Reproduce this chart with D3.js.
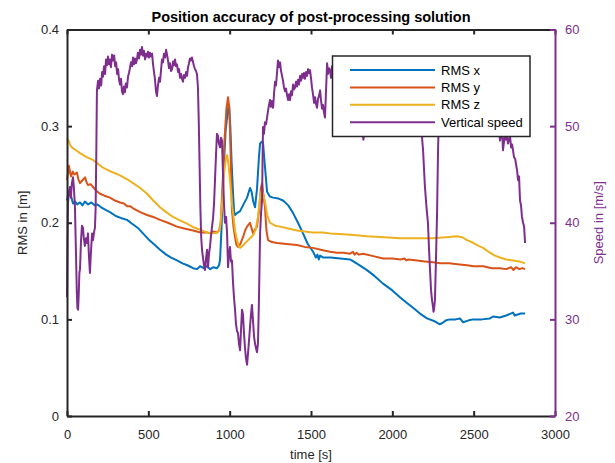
<!DOCTYPE html>
<html>
<head>
<meta charset="utf-8">
<script src="https://cdn.jsdelivr.net/npm/d3@7"></script>
<style>
  body { margin: 0; background: #fff; }
  svg { font-family: Arial, "Liberation Sans", Helvetica, sans-serif; }
</style>
</head>
<body>
<svg id="chart" width="615" height="463"></svg>
<script>
// time [s], RMS [m]
const rmsX = [[0,0.223],[8,0.230],[18,0.234],[27,0.226],[37,0.220],[50,0.222],[62,0.219],[80,0.221],[95,0.218],[110,0.222],[130,0.219],[150,0.221],[170,0.218],[185,0.219],[210,0.216],[240,0.213],[264,0.211],[300,0.207],[330,0.205],[369,0.203],[400,0.199],[440,0.194],[467,0.189],[500,0.183],[540,0.177],[572,0.172],[610,0.167],[640,0.164],[676,0.161],[710,0.158],[740,0.156],[775,0.153],[800,0.152],[818,0.155],[840,0.153],[860,0.155],[880,0.152],[900,0.154],[922,0.153],[935,0.156],[941,0.162],[950,0.195],[960,0.245],[975,0.295],[990,0.318],[996,0.322],[1004,0.300],[1012,0.262],[1021,0.230],[1027,0.212],[1033,0.208],[1045,0.210],[1064,0.212],[1085,0.219],[1107,0.226],[1125,0.236],[1135,0.232],[1145,0.222],[1156,0.216],[1168,0.235],[1180,0.268],[1187,0.282],[1198,0.284],[1205,0.283],[1215,0.262],[1230,0.232],[1248,0.227],[1267,0.226],[1300,0.225],[1328,0.223],[1360,0.218],[1390,0.210],[1420,0.200],[1451,0.189],[1480,0.178],[1513,0.170],[1530,0.164],[1540,0.167],[1548,0.162],[1556,0.166],[1574,0.164],[1620,0.164],[1680,0.163],[1740,0.162],[1790,0.157],[1844,0.151],[1890,0.145],[1943,0.137],[2000,0.130],[2047,0.123],[2090,0.117],[2127,0.112],[2170,0.106],[2213,0.101],[2260,0.098],[2290,0.095],[2305,0.096],[2330,0.099],[2355,0.100],[2390,0.100],[2416,0.101],[2435,0.097],[2470,0.099],[2496,0.100],[2550,0.100],[2600,0.101],[2619,0.103],[2660,0.102],[2700,0.104],[2742,0.107],[2752,0.104],[2790,0.106],[2816,0.106]];

const rmsY = [[0,0.244],[6,0.252],[12,0.259],[20,0.251],[25,0.248],[35,0.253],[45,0.250],[61,0.252],[70,0.245],[80,0.241],[95,0.244],[111,0.247],[120,0.242],[129,0.239],[145,0.240],[160,0.237],[180,0.233],[203,0.230],[230,0.228],[264,0.226],[295,0.223],[326,0.221],[350,0.220],[370,0.217],[390,0.217],[406,0.215],[450,0.211],[492,0.208],[530,0.206],[572,0.203],[620,0.200],[676,0.196],[720,0.194],[775,0.192],[820,0.190],[861,0.190],[880,0.189],[900,0.191],[922,0.190],[935,0.192],[945,0.200],[955,0.235],[968,0.285],[980,0.318],[990,0.330],[998,0.318],[1006,0.270],[1014,0.213],[1024,0.195],[1033,0.185],[1042,0.177],[1051,0.175],[1065,0.178],[1082,0.185],[1095,0.192],[1107,0.196],[1125,0.200],[1135,0.194],[1144,0.189],[1156,0.193],[1168,0.196],[1180,0.212],[1192,0.236],[1199,0.241],[1208,0.228],[1217,0.216],[1226,0.192],[1236,0.182],[1260,0.180],[1291,0.179],[1350,0.178],[1414,0.177],[1460,0.175],[1512,0.174],[1560,0.172],[1617,0.170],[1660,0.169],[1700,0.169],[1740,0.168],[1758,0.170],[1768,0.167],[1780,0.169],[1795,0.167],[1820,0.168],[1870,0.166],[1943,0.163],[2000,0.163],[2050,0.162],[2075,0.163],[2085,0.161],[2100,0.162],[2152,0.161],[2200,0.160],[2250,0.159],[2293,0.158],[2350,0.158],[2400,0.157],[2459,0.156],[2500,0.155],[2560,0.155],[2610,0.153],[2662,0.153],[2700,0.152],[2730,0.154],[2745,0.151],[2760,0.154],[2780,0.152],[2800,0.153],[2816,0.152]];

const rmsZ = [[0,0.287],[10,0.285],[18,0.281],[25,0.279],[37,0.277],[55,0.275],[80,0.272],[120,0.268],[160,0.265],[190,0.261],[221,0.257],[270,0.253],[326,0.249],[370,0.245],[406,0.241],[450,0.236],[492,0.230],[530,0.223],[572,0.216],[610,0.211],[652,0.206],[700,0.202],[738,0.199],[770,0.196],[799,0.194],[830,0.192],[861,0.190],[898,0.189],[925,0.190],[940,0.193],[952,0.215],[965,0.250],[978,0.268],[984,0.270],[992,0.262],[1004,0.240],[1014,0.220],[1021,0.210],[1033,0.192],[1045,0.182],[1055,0.176],[1064,0.174],[1085,0.177],[1107,0.181],[1125,0.184],[1144,0.187],[1160,0.193],[1174,0.206],[1188,0.228],[1199,0.234],[1208,0.228],[1217,0.222],[1230,0.208],[1248,0.200],[1280,0.197],[1310,0.196],[1360,0.194],[1414,0.192],[1460,0.191],[1512,0.190],[1570,0.190],[1617,0.189],[1700,0.188],[1780,0.187],[1844,0.186],[1950,0.185],[2047,0.184],[2150,0.184],[2250,0.184],[2330,0.185],[2398,0.186],[2430,0.185],[2459,0.182],[2500,0.179],[2530,0.176],[2558,0.174],[2600,0.169],[2630,0.166],[2662,0.164],[2700,0.162],[2742,0.161],[2780,0.160],[2816,0.158]];

// time [s], speed [m/s]
const verticalSpeed = [[0,32.3],[3,38.0],[6,42.0],[12,43.2],[18,43.7],[24,42.6],[30,44.1],[37,44.7],[43,43.5],[49,41.5],[55,37.0],[60,33.0],[64,31.2],[68,31.0],[72,32.5],[76,34.8],[80,35.2],[86,38.1],[92,39.7],[98,39.5],[104,38.3],[110,37.6],[117,38.4],[123,37.9],[129,38.9],[135,36.5],[141,34.8],[147,36.9],[154,38.9],[160,38.2],[166,39.0],[172,39.5],[176,41.5],[180,47.0],[184,53.7],
  [191,54.7],[197,53.9],[203,54.9],[210,54.2],[216,55.6],[221,55.1],[228,56.2],[234,55.4],[240,56.9],[246,56.3],[252,57.2],[258,56.4],[264,56.9],[270,56.1],[277,57.4],[283,56.8],[290,57.3],[296,56.2],[302,56.6],[308,55.4],[314,55.9],[320,54.8],[326,54.3],[332,54.9],[338,53.6],[344,53.3],[350,54.1],[356,53.5],[362,54.4],[369,54.0],[375,55.1],[381,55.5],[387,56.0],[393,56.6],[400,56.2],[406,57.1],[412,56.4],[418,57.0],[424,56.5],[430,56.9],[436,57.6],[443,57.0],[449,57.9],[455,57.4],[461,58.2],[467,57.3],[473,57.8],[480,56.9],[486,57.5],[492,57.2],[498,57.7],[504,57.1],[510,57.6],[517,57.2],[523,57.5],[529,56.4],[535,55.6],[541,54.8],[547,53.6],[553,53.1],[559,54.2],[566,55.0],[572,54.6],[578,55.8],[584,56.9],[590,56.6],[596,57.5],[603,57.1],[609,57.9],[615,57.4],[621,56.8],[627,56.0],[633,56.5],[640,55.7],[646,55.9],[652,56.7],[658,56.3],[664,56.9],[670,56.2],[676,56.4],[683,55.6],[689,55.9],[695,55.0],[701,55.4],[707,54.9],[713,54.6],[719,55.3],[726,55.0],[732,55.6],[738,55.2],[744,56.1],[750,56.5],[756,57.0],[762,56.8],[768,57.1],[775,56.6],[781,56.2],[787,55.9],[793,55.7],[799,55.4],
  [805,54.0],[810,50.5],[815,46.0],[820,41.5],[825,38.5],[830,37.2],[836,36.4],[842,35.6],[848,35.1],[854,36.2],[861,37.2],[867,35.4],[873,36.8],[879,37.5],[885,38.6],[891,39.5],[898,40.5],[904,42.0],[910,44.5],[916,47.0],[922,49.2],[928,49.0],[934,48.2],[941,47.8],[947,48.8],[953,48.5],[959,45.0],[965,42.0],[971,40.0],[978,40.6],[984,38.9],[990,35.4],[996,36.8],[1002,37.5],[1008,36.0],[1014,36.1],[1021,33.7],[1027,32.2],[1033,31.0],[1039,29.5],[1045,28.8],[1051,28.6],[1057,27.5],[1064,26.8],[1070,29.0],[1076,31.0],[1082,30.5],[1088,28.6],[1094,27.1],[1100,26.0],[1107,25.3],[1113,26.5],[1119,27.8],[1125,29.2],[1131,30.5],[1137,31.5],[1143,30.0],[1150,28.2],[1156,27.5],[1162,27.0],[1168,26.6],[1174,27.5],[1180,32.0],[1187,38.9],[1193,41.0],[1199,42.3],[1205,49.9],[1211,49.2],[1217,50.4],[1224,50.2],[1230,50.9],[1236,51.6],[1242,52.2],[1248,52.7],[1254,52.0],[1260,52.6],[1267,51.9],[1273,53.4],[1279,54.6],[1285,54.2],[1291,55.5],[1297,56.8],[1303,56.1],[1310,56.6],[1316,55.7],[1322,55.2],[1328,54.7],[1334,54.0],[1340,53.6],[1346,53.9],[1353,53.2],[1359,52.7],[1365,53.3],[1371,52.7],[1377,53.6],[1383,53.2],[1390,54.3],[1396,53.8],[1402,54.0],[1408,54.6],[1414,54.1],[1420,54.8],[1426,54.3],[1433,55.2],[1439,54.7],[1445,55.4],[1451,55.0],[1457,55.5],[1463,54.9],[1470,55.6],[1476,55.2],[1482,55.9],[1488,55.5],[1494,55.8],[1500,55.0],[1506,54.0],[1513,53.2],[1519,52.4],[1525,53.0],[1531,52.3],[1537,51.9],[1543,52.8],[1549,53.1],[1556,53.7],[1562,52.6],[1568,51.8],[1574,52.2],[1580,51.4],[1586,50.9],[1592,53.5],[1599,56.5],[1605,55.4],[1611,56.0],[1617,55.8],[1623,55.0],[1629,56.2],[1635,56.0],
  [1645,55.1],[1655,55.7],[1665,54.6],[1675,55.2],[1685,54.1],[1695,54.7],[1705,53.6],[1715,54.2],[1725,53.4],[1735,53.8],[1745,52.9],[1755,53.5],[1765,52.6],[1775,53.1],[1785,51.8],[1795,52.3],[1805,50.6],[1815,49.5],[1822,48.6],[1830,49.4],[1838,51.0],[1846,52.4],[1855,53.0],[1865,54.1],[1875,53.7],[1885,54.6],[1895,54.2],[1905,55.0],[1915,54.5],[1925,55.3],[1935,55.8],[1945,55.2],[1955,56.0],[1965,55.5],[1975,56.3],[1985,55.7],[1995,56.1],[2005,55.4],[2015,55.9],[2025,55.2],[2035,55.6],[2045,54.8],[2055,55.3],[2065,54.6],[2075,55.1],[2085,54.4],[2095,54.9],[2105,54.3],[2115,54.8],[2125,54.1],[2135,54.6],[2145,54.0],[2155,54.5],[2165,53.8],[2172,52.5],[2178,50.5],[2184,48.5],[2189,47.5],[2195,45.5],[2200,43.8],[2206,42.5],[2212,41.2],[2219,40.0],[2225,37.5],[2232,35.0],[2238,33.0],[2244,32.0],[2250,31.3],[2253,30.8],[2256,31.0],[2262,32.0],[2268,36.0],[2275,41.0],[2281,47.5],[2287,51.5],[2293,54.0],[2300,55.0],
  [2310,55.8],[2325,55.2],[2340,56.0],[2355,55.5],[2370,56.3],[2385,55.6],[2400,56.2],[2420,55.4],[2440,55.9],[2460,55.0],[2480,55.6],[2500,54.8],[2520,55.3],[2540,54.5],[2560,55.1],[2580,54.2],[2600,54.7],[2615,53.8],[2630,53.2],[2640,52.5],[2650,51.5],[2656,49.5],[2662,48.5],[2668,49.2],[2674,50.0],[2680,47.5],[2686,48.3],[2692,49.0],[2699,48.6],[2705,49.0],[2711,48.2],[2718,48.7],[2724,48.9],[2730,47.8],[2736,48.1],[2742,47.5],[2748,46.8],[2755,46.6],[2761,46.0],[2767,45.4],[2773,44.4],[2779,44.8],[2785,42.3],[2791,41.8],[2797,40.6],[2804,40.0],[2810,39.6],[2816,37.9]];

const xTicks = [0, 500, 1000, 1500, 2000, 2500, 3000];
const leftTicks = [0, 0.1, 0.2, 0.3, 0.4];
const rightTicks = [20, 30, 40, 50, 60];
const legendLabels = ['RMS x', 'RMS y', 'RMS z', 'Vertical speed'];
const colors = ['#0072BD', '#D95319', '#EDB120', '#7E2F8E'];

const svg = d3.select('#chart');
const plotLeft = 67, plotRight = 555, plotTop = 29.5, plotBottom = 416;
const axisColor = '#262626';

const x = d3.scaleLinear().domain([0, 3000]).range([plotLeft, plotRight]);
const yL = d3.scaleLinear().domain([0, 0.4]).range([plotBottom, plotTop]);
const yR = d3.scaleLinear().domain([20, 60]).range([plotBottom, plotTop]);

const lineL = d3.line().x(d => x(d[0])).y(d => yL(d[1]));
const lineR = d3.line().x(d => x(d[0])).y(d => yR(d[1]));

// data lines
[rmsX, rmsY, rmsZ].forEach((s, i) => {
    svg.append('path')
        .attr('d', lineL(s))
        .attr('fill', 'none')
        .attr('stroke', colors[i])
        .attr('stroke-width', 2)
        .attr('stroke-linejoin', 'round');
});
svg.append('path')
    .attr('d', lineR(verticalSpeed))
    .attr('fill', 'none')
    .attr('stroke', colors[3])
    .attr('stroke-width', 2)
    .attr('stroke-linejoin', 'round');

// axes
const styleAxis = (g, col) => {
    g.selectAll('path.domain').attr('stroke', col).attr('stroke-width', 2);
    g.selectAll('.tick line').attr('stroke', col).attr('stroke-width', 2);
    g.selectAll('.tick text').attr('fill', col).attr('font-size', 13)
        .attr('font-family', 'Arial, "Liberation Sans", sans-serif');
};

svg.append('g')
    .attr('transform', `translate(0,${plotBottom})`)
    .call(d3.axisBottom(x).tickValues(xTicks).tickSizeInner(-5).tickSizeOuter(0).tickPadding(14)
        .tickFormat(d3.format('d')))
    .call(g => styleAxis(g, axisColor));

svg.append('g')
    .attr('transform', `translate(0,${plotTop})`)
    .call(d3.axisTop(x).tickValues(xTicks).tickSizeInner(-5).tickSizeOuter(0).tickFormat(''))
    .call(g => styleAxis(g, axisColor));

svg.append('g')
    .attr('transform', `translate(${plotLeft},0)`)
    .call(d3.axisLeft(yL).tickValues(leftTicks).tickSizeInner(-5).tickSizeOuter(0).tickPadding(8)
        .tickFormat(d => d === 0 ? '0' : d3.format('.1f')(d)))
    .call(g => styleAxis(g, axisColor));

svg.append('g')
    .attr('transform', `translate(${plotRight},0)`)
    .call(d3.axisRight(yR).tickValues(rightTicks).tickSizeInner(-5).tickSizeOuter(0).tickPadding(10))
    .call(g => styleAxis(g, colors[3]));

// labels
svg.append('text')
    .attr('x', (plotLeft + plotRight) / 2).attr('y', 22)
    .attr('text-anchor', 'middle')
    .attr('font-size', 14.5).attr('font-weight', 'bold').attr('fill', '#000')
    .text('Position accuracy of post-processing solution');

svg.append('text')
    .attr('x', (plotLeft + plotRight) / 2).attr('y', 459)
    .attr('text-anchor', 'middle')
    .attr('font-size', 13).attr('fill', axisColor)
    .text('time [s]');

svg.append('text')
    .attr('transform', `translate(27,${(plotTop + plotBottom) / 2}) rotate(-90)`)
    .attr('text-anchor', 'middle')
    .attr('font-size', 13).attr('fill', axisColor)
    .text('RMS in [m]');

svg.append('text')
    .attr('transform', `translate(603,${(plotTop + plotBottom) / 2}) rotate(-90)`)
    .attr('text-anchor', 'middle')
    .attr('font-size', 13).attr('fill', colors[3])
    .text('Speed in [m/s]');

// legend
const legend = svg.append('g').attr('transform', 'translate(332.5,56)');
legend.append('rect')
    .attr('width', 197.5).attr('height', 80.5)
    .attr('fill', '#fff').attr('stroke', axisColor).attr('stroke-width', 1.5);
legendLabels.forEach((lab, i) => {
    const yy = 14 + i * 17.4;
    legend.append('line')
        .attr('x1', 17.5).attr('x2', 102.5).attr('y1', yy).attr('y2', yy)
        .attr('stroke', colors[i]).attr('stroke-width', 2);
    legend.append('text')
        .attr('x', 108.5).attr('y', yy).attr('dy', '0.35em')
        .attr('font-size', 13).attr('fill', '#000')
        .text(lab);
});
</script>
</body>
</html>
